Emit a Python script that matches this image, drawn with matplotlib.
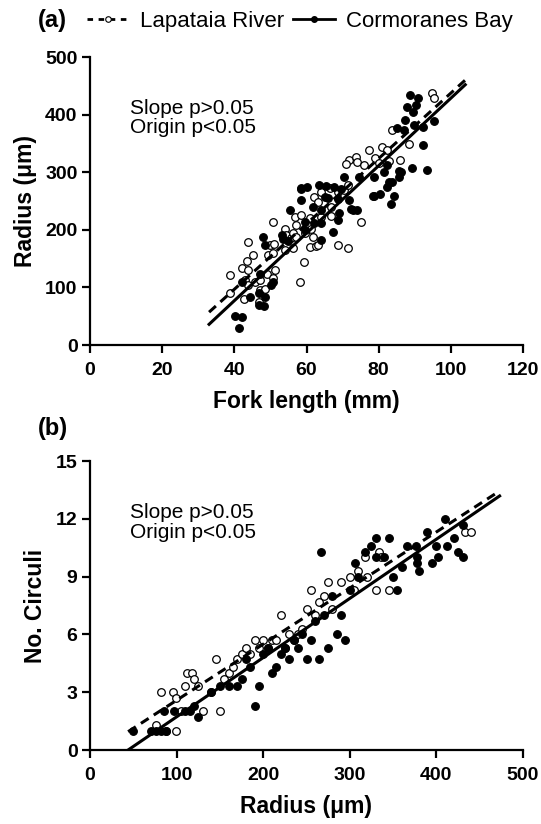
import numpy as np
import matplotlib
matplotlib.use('Agg')
import matplotlib.pyplot as plt
from matplotlib.lines import Line2D

plt.rcParams['font.family'] = ['Liberation Sans', 'DejaVu Sans']

# ---- panel (a): fork length (mm) vs radius (um) ----
lap_fl = [38.9, 38.9, 42.1, 42.6, 43.0, 43.5, 43.9, 43.9, 43.9, 45.3, 45.8, 46.7, 47.1, 47.1,
          48.5, 49.0, 49.4, 49.9, 50.8, 50.8, 51.1, 51.3, 50.8, 54.0, 54.0, 54.4, 55.8, 56.3,
          56.3, 56.8, 57.2, 57.2, 58.3, 58.6, 59.2, 59.5, 60.9, 60.9, 61.3, 61.8, 62.2, 62.7,
          63.2, 63.2, 64.1, 64.1, 66.4, 66.8, 66.8, 68.6, 68.6, 70.5, 71.4, 71.4, 71.9, 73.7,
          75.0, 77.3, 81.0, 82.4, 71.0, 74.0, 76.0, 79.0, 80.0, 83.0, 86.0, 83.7, 88.3, 94.7,
          95.2]
lap_rad = [122, 91, 133, 80, 113, 146, 179, 130, 104, 156, 110, 75, 95, 113,
           97, 124, 156, 174, 159, 116, 176, 130, 213, 165, 202, 191, 185, 168,
           194, 223, 188, 208, 110, 226, 144, 194, 170, 220, 202, 187, 257, 172,
           249, 174, 266, 223, 272, 240, 224, 266, 174, 269, 278, 169, 322, 326,
           213, 338, 343, 338, 315, 318, 312, 325, 316, 320, 322, 373, 349, 437,
           428]

cor_fl = [40.3, 41.2, 42.1, 42.1, 44.4, 46.7, 46.7, 47.1, 48.0, 48.5, 48.5, 48.3, 50.3, 50.8,
          53.1, 53.5, 54.9, 55.4, 58.6, 58.6, 59.5, 59.5, 61.8, 62.2, 63.6, 64.1, 64.1, 64.1,
          65.0, 65.4, 66.0, 67.3, 67.7, 68.6, 68.6, 69.1, 69.5, 70.5, 71.9, 72.3, 72.8, 74.1,
          74.6, 78.3, 78.7, 78.7, 80.5, 81.5, 82.4, 82.4, 82.8, 83.3, 83.7, 84.2, 85.1, 85.6,
          85.7, 86.2, 87.0, 87.4, 87.9, 88.6, 89.2, 89.4, 89.7, 90.3, 90.8, 92.4, 92.4, 93.4,
          95.2, 58.6, 60.0]
cor_rad = [50, 29, 48, 110, 84, 90, 69, 124, 188, 174, 84, 68, 104, 110,
           191, 184, 181, 234, 252, 272, 214, 200, 240, 211, 278, 234, 211, 182,
           257, 276, 255, 197, 275, 217, 254, 230, 270, 292, 252, 237, 234, 234,
           292, 259, 259, 292, 263, 301, 312, 275, 283, 244, 283, 259, 377, 292,
           302, 300, 373, 391, 414, 434, 308, 405, 382, 416, 428, 379, 347, 304,
           389, 270, 275]

# fitted lines (intercept, slope, x range)
fit_a = {'lap': (-130.3, 5.676, 33, 104), 'cor': (-157.4, 5.859, 33, 104)}

# ---- panel (b): radius (um) vs number of circuli ----
lap_r = [82, 96, 99, 76, 99, 88, 105, 110, 112, 118, 120, 125, 130, 140, 145, 150, 155, 160,
         165, 170, 175, 180, 185, 190, 195, 200, 205, 210, 215, 220, 225, 230, 235, 240, 245,
         250, 255, 260, 265, 270, 275, 280, 290, 300, 305, 310, 320, 330, 334, 317, 336, 345,
         433, 440]
lap_c = [3.0, 3.0, 2.7, 1.3, 1.0, 1.0, 2.0, 3.3, 4.0, 4.0, 3.7, 3.3, 2.0, 3.0, 4.7, 2.0, 3.7, 4.0,
         4.3, 4.7, 5.0, 5.3, 5.0, 5.7, 5.3, 5.7, 5.3, 5.7, 5.7, 7.0, 5.3, 6.0, 5.7, 6.0, 6.3,
         7.3, 8.3, 7.0, 7.7, 8.0, 8.7, 7.3, 8.7, 9.0, 8.3, 9.3, 9.0, 8.3, 10.3, 10.0, 10.0, 8.3,
         11.3, 11.3]

cor_r = [50, 71, 76, 82, 88, 86, 97, 110, 115, 120, 125, 140, 150, 160, 170, 175, 180, 185,
         190, 195, 200, 205, 210, 215, 220, 225, 230, 235, 240, 245, 250, 255, 260, 265, 267,
         270, 275, 280, 285, 290, 295, 300, 306, 310, 318, 324, 330, 330, 340, 345, 350, 355,
         366, 376, 378, 378, 389, 400, 402, 410, 412, 420, 425, 431, 431, 380, 395, 360]
cor_c = [1.0, 1.0, 1.0, 1.0, 1.0, 2.0, 2.0, 2.0, 2.0, 2.3, 1.7, 3.0, 3.3, 3.3, 3.3, 3.7, 4.7, 4.3,
         2.3, 3.3, 5.0, 5.3, 4.0, 4.3, 5.0, 5.3, 4.7, 5.7, 5.3, 6.0, 4.7, 5.7, 6.7, 4.7, 10.3,
         7.0, 5.3, 8.0, 6.0, 7.0, 5.7, 8.3, 9.7, 9.0, 10.3, 10.6, 11.0, 10.0, 10.0, 11.0, 9.0, 8.3,
         10.6, 10.6, 10.0, 9.7, 11.3, 10.6, 10.0, 12.0, 10.6, 11.0, 10.3, 10.0, 11.7, 9.3, 9.7, 9.5]

fit_b = {'lap': (-0.33, 0.02912, 44, 473), 'cor': (-1.353, 0.03074, 44, 473)}


def style_axes(ax, xticks, yticks, xlabel, ylabel):
    for s in ['top', 'right']:
        ax.spines[s].set_visible(False)
    for s in ['left', 'bottom']:
        ax.spines[s].set_linewidth(1.6)
    ax.set_xticks(xticks)
    ax.set_yticks(yticks)
    ax.set_xlim(xticks[0], xticks[-1])
    ax.set_ylim(yticks[0], yticks[-1])
    ax.tick_params(width=1.6, length=6, labelsize=14)
    ax.tick_params(axis='x', pad=6.5)
    ax.tick_params(axis='y', pad=3)
    for lab in ax.get_xticklabels() + ax.get_yticklabels():
        lab.set_fontweight('bold')
    ax.set_xlabel(xlabel, fontsize=16.5, fontweight='bold', labelpad=7.5)
    ax.set_ylabel(ylabel, fontsize=16.5, fontweight='bold', labelpad=6)


def draw_panel(ax, x1, y1, x2, y2, fits):
    ax.scatter(x1, y1, s=30, facecolors='white', edgecolors='black', linewidths=0.9, zorder=3, clip_on=False)
    ax.scatter(x2, y2, s=30, facecolors='black', edgecolors='black', linewidths=0.9, zorder=3, clip_on=False)
    b0, b1, xa, xb = fits['lap']
    xs = np.array([xa, xb])
    ax.plot(xs, b0 + b1 * xs, color='black', lw=2.2, ls=(0, (3, 2)), zorder=4)
    b0, b1, xa, xb = fits['cor']
    xs = np.array([xa, xb])
    ax.plot(xs, b0 + b1 * xs, color='black', lw=2.2, zorder=4)
    ax.text(0.092, 0.788, 'Slope p>0.05\nOrigin p<0.05', transform=ax.transAxes,
            fontsize=15, va='center', ha='left', linespacing=1.05)


fig = plt.figure(figsize=(5.41, 8.24), dpi=100)
ax1 = fig.add_axes([90 / 541, 0.5813, 433 / 541, 0.3495])
ax2 = fig.add_axes([90 / 541, 0.0898, 433 / 541, 0.3507])

draw_panel(ax1, lap_fl, lap_rad, cor_fl, cor_rad, fit_a)
style_axes(ax1, [0, 20, 40, 60, 80, 100, 120], [0, 100, 200, 300, 400, 500],
           'Fork length (mm)', 'Radius (μm)')

draw_panel(ax2, lap_r, lap_c, cor_r, cor_c, fit_b)
style_axes(ax2, [0, 100, 200, 300, 400, 500], [0, 3, 6, 9, 12, 15],
           'Radius (μm)', 'No. Circuli')

fig.text(38 / 541, 1 - 21 / 824, '(a)', fontsize=17, fontweight='bold', va='center', ha='left')
fig.text(38 / 541, 1 - 428 / 824, '(b)', fontsize=17, fontweight='bold', va='center', ha='left')

handles = [Line2D([], [], color='black', lw=2, ls=(0, (2, 2)), marker='o', markersize=4,
                  markerfacecolor='white', markeredgewidth=0.8),
           Line2D([], [], color='black', lw=2, marker='o', markersize=4, markerfacecolor='black')]
fig.legend(handles, ['Lapataia River', 'Cormoranes Bay'], loc='center',
           bbox_to_anchor=(300 / 541, 1 - 21 / 824), ncol=2, frameon=False, fontsize=16,
           handlelength=1.9, handletextpad=0.5, columnspacing=0.4)

fig.savefig('out.png', dpi=100)
